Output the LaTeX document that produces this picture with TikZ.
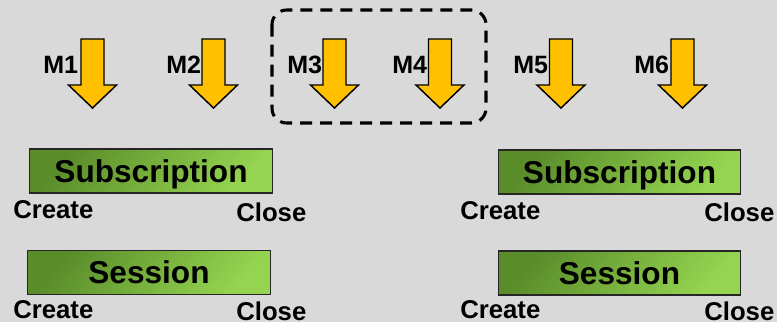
\documentclass[tikz,border=0pt]{standalone}
\usepackage{fontspec}
\setmainfont{Liberation Sans}
\usetikzlibrary{positioning}

\definecolor{bggray}{HTML}{D9D9D9}
\definecolor{msgyellow}{HTML}{FFC000}
\definecolor{boxdark}{HTML}{5A8C2A}
\definecolor{boxlight}{HTML}{94D450}

\begin{document}
\begin{tikzpicture}[x=0.75pt, y=-0.75pt]
                \tikzset{
                    msglabel/.style={inner sep=0pt, anchor=base west,
                        font=\fontsize{18.8}{21}\selectfont\bfseries},
                    msgarrow/.style={fill=msgyellow, draw=black, line width=1.1pt, line join=miter},
                    scopebox/.style={draw=black, line width=2.3pt, dash pattern=on 9pt off 6pt,
                        rounded corners=11pt},
                    lifebox/.style={draw=black!85, line width=0.9pt, shading=axis,
                        top color=boxdark, bottom color=boxlight, shading angle=50,
                        minimum width=182pt, minimum height=33pt, inner sep=0pt,
                        text height=17pt, text depth=0pt,
                        font=\fontsize{23.7}{28}\selectfont\bfseries},
                    endlabel/.style={inner sep=0pt, anchor=base west,
                        font=\fontsize{19.3}{22}\selectfont\bfseries}
                }

                % BACKGROUND
                \fill[bggray] (0,0) rectangle (777,322);
                \useasboundingbox (0,0) rectangle (777,322);

                % MESSAGES
                \foreach \i/\cx/\lx in {1/92.5/43, 2/213.5/166, 3/334.5/287,
                                         4/440/392, 5/561/513, 6/682.5/634} {
                    \node[msglabel] (m\i) at (\lx,73) {M\i};
                    \draw[msgarrow] (\cx-11.5,39) -- (\cx+11.5,39) -- (\cx+11.5,85)
                        -- (\cx+24,85) -- (\cx,108) -- (\cx-24,85) -- (\cx-11.5,85) -- cycle;
                }

                % GROUPED MESSAGES
                \draw[scopebox] (272,10) rectangle (486,123);

                % SUBSCRIPTIONS AND SESSIONS
                \node[lifebox] (subL) at (151,171) {Subscription};
                \node[lifebox] (sesL) at (149,272.5) {Session};
                \node[lifebox] (subR) at (619.5,172) {Subscription};
                \node[lifebox] (sesR) at (619.5,273) {Session};

                % CREATE / CLOSE
                \node[endlabel] (subLcreate) at (13,218.5) {Create};
                \node[endlabel] (subLclose) at (236,221) {Close};
                \node[endlabel] (sesLcreate) at (13,318) {Create};
                \node[endlabel] (sesLclose) at (236,320) {Close};
                \node[endlabel] (subRcreate) at (460,219) {Create};
                \node[endlabel] (subRclose) at (704,221) {Close};
                \node[endlabel] (sesRcreate) at (460,318) {Create};
                \node[endlabel] (sesRclose) at (704,320) {Close};

            \end{tikzpicture}
\end{document}
